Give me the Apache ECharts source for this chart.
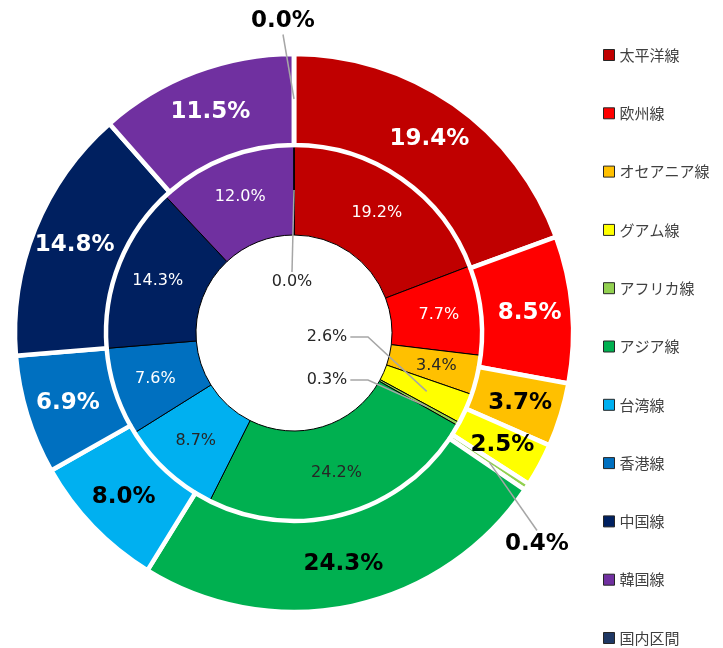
<!DOCTYPE html>
<html>
<head>
<meta charset="utf-8">
<script src="https://cdn.jsdelivr.net/npm/echarts@6/dist/echarts.min.js"></script>
<style>
html,body{margin:0;padding:0;background:#fff;}
#chart{width:723px;height:648px;}
</style>
</head>
<body>
<div id="chart"></div>
<script>
const names = ['太平洋線','欧州線','オセアニア線','グアム線','アフリカ線','アジア線','台湾線','香港線','中国線','韓国線','国内区間'];
const innerValues = [19.2, 7.7, 3.4, 2.6, 0.3, 24.2, 8.7, 7.6, 14.3, 12.0, 0.0];
const outerValues = [19.4, 8.5, 3.7, 2.5, 0.4, 24.3, 8.0, 6.9, 14.8, 11.5, 0.0];
const colors = ['#C00000','#FF0000','#FFC000','#FFFF00','#92D050','#00B050','#00B0F0','#0070C0','#002060','#7030A0','#1F3864'];
const whiteLabel = [true, true, false, false, false, false, false, true, true, true, false];

const cx = 294, cy = 333;
const innerR = [98, 188], outerR = [188, 279];
const FONT = '"DejaVu Sans", Verdana, sans-serif';

function midPoint(values, idx, r) {
  const total = values.reduce((a, b) => a + b, 0);
  let cum = 0;
  for (let i = 0; i < idx; i++) cum += values[i];
  const a = (cum + values[idx] / 2) / total * Math.PI * 2;
  return [cx + r * Math.sin(a), cy - r * Math.cos(a)];
}

// labels that sit away from their slice, with a leader line
const innerSpecial = {
  3: {x: 327, y: 337, side: 'right', r: 145},
  4: {x: 327, y: 380, side: 'right', r: 152},
  10: {x: 292, y: 282, side: 'top', r: 143}
};
const outerSpecial = {
  4: {x: 537, y: 544, side: 'top', r: 234},
  10: {x: 283, y: 21, side: 'bottom', r: 234}
};

function makeLayout(values, special) {
  return function (params) {
    const s = special[params.dataIndex];
    if (!s) return {};
    const w = params.labelRect.width, h = params.labelRect.height;
    const end = midPoint(values, params.dataIndex, s.r);
    let pts;
    if (s.side === 'right') {
      pts = [[s.x + w / 2 + 3, s.y], [368, s.y], end];
    } else if (s.side === 'top') {
      pts = [[s.x, s.y - h / 2 - 2], end];
    } else {
      pts = [[s.x, s.y + h / 2 + 2], end];
    }
    return {x: s.x, y: s.y, align: 'center', verticalAlign: 'middle', labelLinePoints: pts};
  };
}

const fmt = p => p.value.toFixed(1) + '%';

function ringData(values, special, bold) {
  return values.map((v, i) => ({
    name: names[i],
    value: v,
    itemStyle: {color: colors[i]},
    label: {
      show: !special[i],
      color: whiteLabel[i] ? '#fff' : (bold ? '#000' : '#262626')
    },
    labelLine: {show: false}
  }));
}

function overlayData(values, special, bold) {
  return values.map((v, i) => ({
    name: names[i],
    value: v,
    itemStyle: {color: 'rgba(0,0,0,0)', borderWidth: 0},
    label: {
      show: !!special[i],
      position: 'outside',
      color: bold ? '#000' : '#262626'
    },
    labelLine: {show: !!special[i]}
  }));
}

const chart = echarts.init(document.getElementById('chart'), null, {renderer: 'canvas'});
chart.setOption({
  animation: false,
  backgroundColor: '#fff',
  legend: {
    orient: 'vertical',
    left: 603,
    top: 47,
    height: 620,
    padding: 0,
    itemWidth: 11,
    itemHeight: 11,
    itemGap: 42.3,
    icon: 'rect',
    data: names,
    selectedMode: false,
    itemStyle: {borderColor: '#262626', borderWidth: 1},
    textStyle: {fontFamily: '"Noto Sans CJK JP", sans-serif', fontSize: 15, color: '#404040', lineHeight: 16}
  },
  series: [
    {
      name: 'inner',
      type: 'pie',
      z: 2,
      center: [cx, cy],
      radius: innerR,
      startAngle: 90,
      clockwise: true,
      avoidLabelOverlap: false,
      itemStyle: {borderColor: '#000', borderWidth: 1},
      label: {show: true, position: 'inside', fontFamily: FONT, fontSize: 16, formatter: fmt},
      emphasis: {disabled: true},
      data: ringData(innerValues, innerSpecial, false)
    },
    {
      name: 'outer',
      type: 'pie',
      z: 2,
      center: [cx, cy],
      radius: outerR,
      startAngle: 90,
      clockwise: true,
      avoidLabelOverlap: false,
      itemStyle: {borderColor: '#fff', borderWidth: 4.5},
      label: {show: true, position: 'inside', fontFamily: FONT, fontSize: 23, fontWeight: 'bold', formatter: fmt},
      emphasis: {disabled: true},
      data: ringData(outerValues, outerSpecial, true)
    },
    {
      name: 'innerLabels',
      type: 'pie',
      z: 5,
      silent: true,
      center: [cx, cy],
      radius: innerR,
      startAngle: 90,
      clockwise: true,
      avoidLabelOverlap: false,
      label: {fontFamily: FONT, fontSize: 16, formatter: fmt},
      labelLine: {lineStyle: {color: '#A6A6A6', width: 1.5}},
      labelLayout: makeLayout(innerValues, innerSpecial),
      emphasis: {disabled: true},
      data: overlayData(innerValues, innerSpecial, false)
    },
    {
      name: 'outerLabels',
      type: 'pie',
      z: 5,
      silent: true,
      center: [cx, cy],
      radius: outerR,
      startAngle: 90,
      clockwise: true,
      avoidLabelOverlap: false,
      label: {fontFamily: FONT, fontSize: 23, fontWeight: 'bold', formatter: fmt},
      labelLine: {lineStyle: {color: '#A6A6A6', width: 1.5}},
      labelLayout: makeLayout(outerValues, outerSpecial),
      emphasis: {disabled: true},
      data: overlayData(outerValues, outerSpecial, true)
    }
  ]
});
</script>
</body>
</html>
